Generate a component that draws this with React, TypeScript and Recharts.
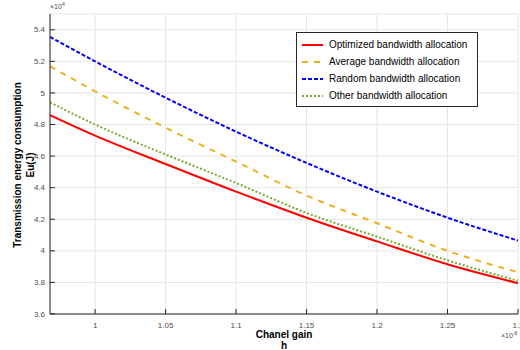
import { LineChart, Line, XAxis, YAxis, CartesianGrid, Label } from 'recharts';

const channelGain = [0.968, 1.0, 1.05, 1.1, 1.15, 1.2, 1.25, 1.3];
const optimized = [4.86, 4.73, 4.55, 4.375, 4.21, 4.06, 3.915, 3.795];
const average = [5.17, 5.01, 4.78, 4.565, 4.35, 4.175, 4.0, 3.865];
const random = [5.355, 5.2, 4.97, 4.755, 4.557, 4.375, 4.21, 4.065];
const other = [4.94, 4.8, 4.61, 4.43, 4.24, 4.09, 3.94, 3.81];

const xTicks = [1, 1.05, 1.1, 1.15, 1.2, 1.25, 1.3];
const yTicks = [3.6, 3.8, 4, 4.2, 4.4, 4.6, 4.8, 5, 5.2, 5.4];

const series = [
  { key: 'optimized', name: 'Optimized bandwidth allocation', color: '#ff0000', dash: undefined, width: 2 },
  { key: 'average', name: 'Average bandwidth allocation', color: '#edb120', dash: '6 6', width: 2 },
  { key: 'random', name: 'Random bandwidth allocation', color: '#0000ff', dash: '4 2', width: 2 },
  { key: 'other', name: 'Other bandwidth allocation', color: '#77ac30', dash: '2 2', width: 2 },
];

const data = channelGain.map((h, i) => ({
  h,
  optimized: optimized[i],
  average: average[i],
  random: random[i],
  other: other[i],
}));

const FONT = 'Liberation Sans, Arial, Helvetica, sans-serif';
const AXIS = '#262626';
const TICK_TEXT = '#4d4d4d';

const BottomTick = (props: any) => {
  const { x, y, payload } = props;
  return (
    <g>
      <line x1={x} x2={x} y1={y - 8} y2={y - 13} stroke={AXIS} />
      <text x={x} y={y} dy="0.71em" textAnchor="middle" fontSize={8} fill={TICK_TEXT} fontFamily={FONT}>
        {payload.value}
      </text>
    </g>
  );
};

const TopTick = (props: any) => {
  const { x, y } = props;
  return <line x1={x} x2={x} y1={y} y2={y + 5} stroke={AXIS} />;
};

const LeftTick = (props: any) => {
  const { x, y, payload } = props;
  return (
    <g>
      <line x1={x + 5} x2={x + 10} y1={y} y2={y} stroke={AXIS} />
      <text x={x} y={y} dy="0.32em" textAnchor="end" fontSize={8} fill={TICK_TEXT} fontFamily={FONT}>
        {payload.value}
      </text>
    </g>
  );
};

const RightTick = (props: any) => {
  const { x, y } = props;
  return <line x1={x} x2={x - 5} y1={y} y2={y} stroke={AXIS} />;
};

const LegendBox = () => (
  <div
    style={{
      position: 'absolute',
      left: 296,
      top: 32,
      width: 175,
      border: `1px solid ${AXIS}`,
      background: '#fff',
      padding: '3px 0 2px 5px',
      fontFamily: FONT,
      fontSize: 10,
      color: '#000',
    }}
  >
    {series.map((s) => (
      <div key={s.key} style={{ display: 'flex', alignItems: 'center', height: 17 }}>
        <svg width={21} height={6} style={{ marginRight: 6 }}>
          <line x1={0} x2={21} y1={3} y2={3} stroke={s.color} strokeWidth={2} strokeDasharray={s.dash} />
        </svg>
        <span>{s.name}</span>
      </div>
    ))}
  </div>
);

export default function App() {
  return (
    <div style={{ position: 'absolute', left: 0, top: 0, width: 520, height: 350, background: '#fff' }}>
      <LineChart width={520} height={350} data={data} margin={{ top: 14, right: 2, bottom: 0, left: 0 }}>
        <CartesianGrid stroke="#e5e5e5" strokeWidth={1} />
        <XAxis
          dataKey="h"
          type="number"
          domain={[0.968, 1.3]}
          ticks={xTicks}
          allowDataOverflow
          height={36}
          tickSize={0}
          tickMargin={8}
          tickLine={false}
          axisLine={{ stroke: AXIS }}
          tick={<BottomTick />}
          interval={0}
        >
          <Label value="Chanel gain" position="insideBottom" offset={12} fontSize={10} fontWeight="bold" fill="#000" fontFamily={FONT} />
          <Label value="h" position="insideBottom" offset={1} fontSize={10} fontWeight="bold" fill="#000" fontFamily={FONT} />
        </XAxis>
        <XAxis
          xAxisId="top"
          dataKey="h"
          type="number"
          orientation="top"
          domain={[0.968, 1.3]}
          ticks={xTicks}
          allowDataOverflow
          height={0}
          tickSize={0}
          tickMargin={0}
          tickLine={false}
          axisLine={{ stroke: AXIS }}
          tick={<TopTick />}
          interval={0}
        />
        <YAxis
          type="number"
          domain={[3.6, 5.5]}
          ticks={yTicks}
          allowDataOverflow
          width={50}
          tickSize={0}
          tickMargin={5}
          tickLine={false}
          axisLine={{ stroke: AXIS }}
          tick={<LeftTick />}
          interval={0}
        />
        <YAxis
          yAxisId="right"
          orientation="right"
          type="number"
          domain={[3.6, 5.5]}
          ticks={yTicks}
          allowDataOverflow
          width={0}
          tickSize={0}
          tickMargin={0}
          tickLine={false}
          axisLine={{ stroke: AXIS }}
          tick={<RightTick />}
          interval={0}
        />
        {series.map((s) => (
          <Line
            key={s.key}
            type="monotone"
            dataKey={s.key}
            name={s.name}
            stroke={s.color}
            strokeWidth={s.width}
            strokeDasharray={s.dash}
            dot={false}
            isAnimationActive={false}
          />
        ))}
      </LineChart>
      <LegendBox />
      <div style={{ position: 'absolute', left: 0, top: 165, width: 0, height: 0 }}>
        <div
          style={{
            position: 'absolute',
            transform: 'translate(-50%, -50%) rotate(-90deg)',
            left: 24,
            top: 0,
            whiteSpace: 'nowrap',
            textAlign: 'center',
            fontFamily: FONT,
            fontSize: 10,
            fontWeight: 'bold',
            lineHeight: '13px',
            color: '#000',
          }}
        >
          Transmission energy consumption
          <br />
          Eu(J)
        </div>
      </div>
      <div style={{ position: 'absolute', left: 50, top: 1, fontFamily: FONT, fontSize: 7, color: TICK_TEXT }}>
        ×10<sup style={{ fontSize: 5 }}>4</sup>
      </div>
      <div style={{ position: 'absolute', left: 501, top: 330, fontFamily: FONT, fontSize: 7, color: TICK_TEXT }}>
        ×10<sup style={{ fontSize: 5 }}>-8</sup>
      </div>
    </div>
  );
}
